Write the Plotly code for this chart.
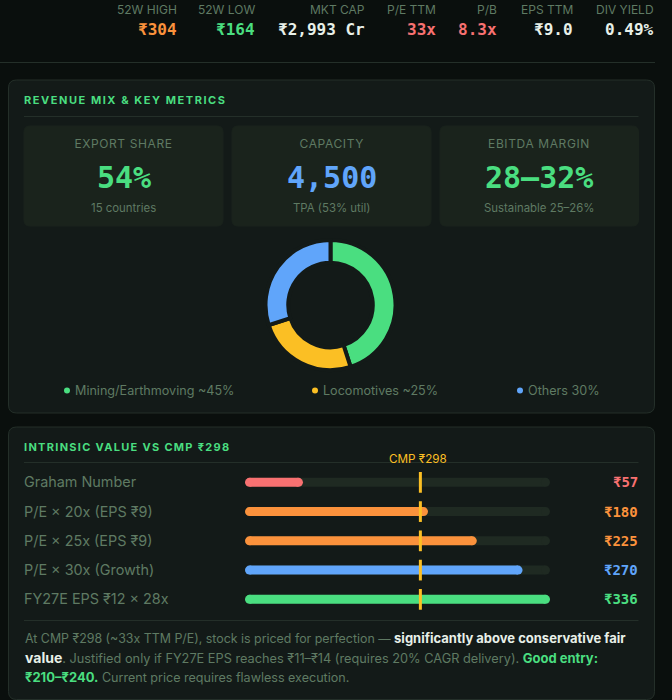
import plotly.graph_objects as go

W, H = 672, 700

# Colours
PAGE = '#0a0f0d'
PANEL = '#131a18'
CARD = '#1a231c'
BORDER = '#242f29'
TRACK = '#1f2a22'
MUTED = '#5f7a63'
WHITE = '#e8f0e8'
GREEN = '#4ade80'
BLUE = '#60a5fa'
AMBER = '#fbbf24'
ORANGE = '#fb923c'
RED = '#f87171'

SANS = 'Inter, sans-serif'
MONO = 'DejaVu Sans Mono, monospace'

# Header strip
header_labels = ['52W HIGH', '52W LOW', 'MKT CAP', 'P/E TTM', 'P/B', 'EPS TTM', 'DIV YIELD']
header_values = ['₹304', '₹164', '₹2,993 Cr', '33x', '8.3x', '₹9.0', '0.49%']
header_colors = [ORANGE, GREEN, WHITE, RED, RED, WHITE, WHITE]
header_right = [178, 256, 366, 437, 498, 574, 655]

# Metric cards
card_labels = ['EXPORT SHARE', 'CAPACITY', 'EBITDA MARGIN']
card_values = ['54%', '4,500', '28–32%']
card_notes = ['15 countries', 'TPA (53% util)', 'Sustainable 25–26%']
card_colors = [GREEN, BLUE, GREEN]

# Revenue mix donut
mix_names = ['Mining/Earthmoving', 'Locomotives', 'Others']
mix_values = [45, 25, 30]
mix_colors = [GREEN, AMBER, BLUE]
mix_legend = ['Mining/Earthmoving ~45%', 'Locomotives ~25%', 'Others 30%']

# Intrinsic value bars, fill is percent of the track
value_labels = ['Graham Number', 'P/E × 20x (EPS ₹9)', 'P/E × 25x (EPS ₹9)',
                'P/E × 30x (Growth)', 'FY27E EPS ₹12 × 28x']
value_text = ['₹57', '₹180', '₹225', '₹270', '₹336']
value_fill = [19, 60, 76, 91, 100]
value_colors = [RED, ORANGE, ORANGE, BLUE, GREEN]
cmp_position = [57.5, 57.5, 57.5, 57.5, 57.5]

BAR_LEFT, BAR_RIGHT = 245, 550
BAR_THICK = 9
# round end of a bar, in percent of the track
CAP = (BAR_THICK / 2) / (BAR_RIGHT - BAR_LEFT) * 100


def px(x):
    return x / W


def py(y):
    return 1 - y / H


def rounded(x0, y0, x1, y1, r, fill, line=None):
    """Rounded rectangle shape given in page pixels."""
    path = (f'M {px(x0 + r)} {py(y0)} L {px(x1 - r)} {py(y0)} '
            f'Q {px(x1)} {py(y0)} {px(x1)} {py(y0 + r)} L {px(x1)} {py(y1 - r)} '
            f'Q {px(x1)} {py(y1)} {px(x1 - r)} {py(y1)} L {px(x0 + r)} {py(y1)} '
            f'Q {px(x0)} {py(y1)} {px(x0)} {py(y1 - r)} L {px(x0)} {py(y0 + r)} '
            f'Q {px(x0)} {py(y0)} {px(x0 + r)} {py(y0)} Z')
    return dict(type='path', xref='paper', yref='paper', path=path, fillcolor=fill,
                line=dict(color=line or fill, width=1), layer='below')


def hline(x0, x1, y):
    return dict(type='line', xref='paper', yref='paper', x0=px(x0), x1=px(x1),
                y0=py(y), y1=py(y), line=dict(color=BORDER, width=1), layer='below')


def dot(x, y, color):
    return dict(type='circle', xref='paper', yref='paper', x0=px(x - 3), x1=px(x + 3),
                y0=py(y + 3), y1=py(y - 3), fillcolor=color, line=dict(width=0), layer='below')


def label(x, y, text, size, color, anchor='center', family=SANS):
    return dict(x=px(x), y=py(y), xref='paper', yref='paper', text=text, showarrow=False,
                xanchor=anchor, yanchor='middle', borderpad=0,
                align='center' if anchor == 'center' else 'left',
                font=dict(size=size, color=color, family=family))


def rail(name, end, color):
    """Pill shaped bar: a thick line with a round marker on each end."""
    return go.Scatter(x=[CAP, end - CAP], y=[name, name], mode='lines+markers', hoverinfo='skip',
                      line=dict(color=color, width=BAR_THICK),
                      marker=dict(color=color, size=BAR_THICK, line=dict(width=0)))


fig = go.Figure()

for name, fill, color in zip(value_labels, value_fill, value_colors):
    fig.add_trace(rail(name, 100, TRACK))
    fig.add_trace(rail(name, fill, color))

fig.add_trace(go.Scatter(y=value_labels, x=cmp_position, mode='markers', hoverinfo='skip',
                         marker=dict(symbol='line-ns', size=14.8,
                                     line=dict(color=AMBER, width=3))))

fig.add_trace(go.Pie(labels=mix_names, values=mix_values, sort=False, direction='clockwise',
                     rotation=0, hole=0.65, textinfo='none', hoverinfo='skip',
                     marker=dict(colors=mix_colors, line=dict(color=PANEL, width=4)),
                     domain=dict(x=[px(330.5 - 65), px(330.5 + 65)],
                                 y=[py(305 + 65), py(305 - 65)])))

shapes = [
    hline(0, 655, 62.5),
    rounded(8.5, 80, 654.5, 413, 8, PANEL, BORDER),
    hline(24, 638.5, 116.5),
    rounded(8.5, 427, 654.5, 699.5, 8, PANEL, BORDER),
    hline(24, 638.5, 462.5),
    hline(24, 638.5, 620.5),
]
annotations = []

for right, name, value, color in zip(header_right, header_labels, header_values, header_colors):
    annotations.append(label(right, 10, name, 12, MUTED, 'right'))
    annotations.append(label(right, 30, f'<b>{value}</b>', 16, color, 'right', MONO))

annotations.append(label(23, 100, '<b>REVENUE MIX &amp; KEY METRICS</b>', 11, GREEN, 'left'))
annotations.append(label(23, 447, '<b>INTRINSIC VALUE VS CMP ₹298</b>', 11, GREEN, 'left'))

card_edges = [(24, 223), (232, 431), (440, 638.5)]
for (x0, x1), name, value, note, color in zip(card_edges, card_labels, card_values,
                                              card_notes, card_colors):
    shapes.append(rounded(x0, 126, x1, 226, 6, CARD))
    mid = (x0 + x1) / 2
    annotations.append(label(mid, 143, name, 12, MUTED))
    annotations.append(label(mid, 177, f'<b>{value}</b>', 30, color, family=MONO))
    annotations.append(label(mid, 208, note, 11.4, MUTED))

legend_dots = [67, 315, 520]
for x, text, color in zip(legend_dots, mix_legend, mix_colors):
    shapes.append(dot(x, 390.5, color))
    annotations.append(label(x + 6.5, 390, text, 12.6, MUTED, 'left'))

for name, text, color in zip(value_labels, value_text, value_colors):
    annotations.append(dict(x=px(23), y=name, yshift=0.5, xref='paper', yref='y', text=name,
                            showarrow=False, xanchor='left', yanchor='middle', borderpad=0,
                            font=dict(size=14.4, color=MUTED, family=SANS)))
    annotations.append(dict(x=px(639), y=name, xref='paper', yref='y', text=f'<b>{text}</b>',
                            showarrow=False, xanchor='right', yanchor='middle', borderpad=0,
                            font=dict(size=14, color=color, family=MONO)))

annotations.append(label(418.5, 458.5, 'CMP ₹298', 11.7, AMBER))

bold = 'font-size:13px;font-weight:bold'
note_lines = [
    f'At CMP ₹298 (~33x TTM P/E), stock is priced for perfection — '
    f'<span style="color:{WHITE};{bold}">significantly above conservative fair</span>',
    f'<span style="color:{WHITE};font-size:14px;font-weight:bold">value</span>. Justified only '
    f'if FY27E EPS reaches ₹11–₹14 (requires 20% CAGR delivery). '
    f'<span style="color:{GREEN};{bold}">Good entry:</span>',
    f'<span style="color:{GREEN};{bold}">₹210–₹240.</span> Current price requires flawless execution.',
]
for y, size, line in zip([637.7, 657.3, 676.7], [12.4, 12.75, 12.55], note_lines):
    annotations.append(label(23.5, y, line, size, MUTED, 'left'))

fig.update_layout(
    width=W, height=H,
    margin=dict(l=0, r=0, t=0, b=0),
    paper_bgcolor=PAGE,
    plot_bgcolor='rgba(0,0,0,0)',
    showlegend=False,
    hovermode=False,
    xaxis=dict(domain=[px(BAR_LEFT), px(BAR_RIGHT)], range=[0, 100], visible=False),
    yaxis=dict(domain=[py(614), py(467.7)], range=[4.5, -0.5], visible=False, type='category',
               categoryorder='array', categoryarray=value_labels),
    shapes=shapes,
    annotations=annotations,
)

# Some labels are letter spaced, which annotations cannot ask for
post = """
document.body.style.margin = '0';
document.body.style.background = '#0a0f0d';
document.body.style.overflow = 'hidden';
var spacing = {'REVENUE MIX': '1.55px', 'INTRINSIC VALUE': '1.3px', 'EXPORT SHARE': '0.6px',
               'CAPACITY': '0.6px', 'EBITDA MARGIN': '0.6px'};
document.querySelectorAll('.annotation-text').forEach(function (t) {
    Object.keys(spacing).forEach(function (k) {
        if (t.textContent.startsWith(k)) t.style.letterSpacing = spacing[k];
    });
});
"""
fig.write_html("out.html", config={'displayModeBar': False}, post_script=post)
